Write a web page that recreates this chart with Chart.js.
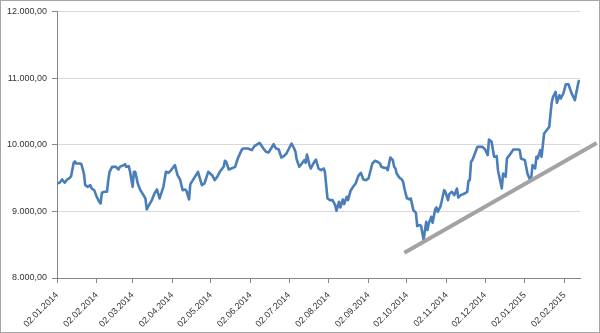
<!DOCTYPE html>
<html lang="de">
<head>
    <meta charset="UTF-8">
    <title>Kursverlauf</title>
    <script src="https://cdn.jsdelivr.net/npm/chart.js"></script>
    <style>
        html, body { margin: 0; padding: 0; background: #fff; }
        #wrap { width: 600px; height: 333px; box-sizing: border-box; border: 1px solid #a6a6a6; position: relative; }
    </style>
</head>
<body>
    <div id="wrap"><canvas id="kurs"></canvas></div>

    <script>
        // daily closes
        const dates = [
            '02.01.2014','04.01.2014','06.01.2014','08.01.2014','10.01.2014','12.01.2014','13.01.2014','15.01.2014','16.01.2014','17.01.2014',
            '20.01.2014','21.01.2014','23.01.2014','24.01.2014','26.01.2014','28.01.2014','29.01.2014','31.01.2014',
            '02.02.2014','04.02.2014','05.02.2014','06.02.2014','08.02.2014','10.02.2014','11.02.2014','12.02.2014','14.02.2014',
            '17.02.2014','19.02.2014','20.02.2014','23.02.2014','24.02.2014','25.02.2014','27.02.2014','28.02.2014',
            '02.03.2014','03.03.2014','04.03.2014','05.03.2014','06.03.2014','08.03.2014','10.03.2014','12.03.2014','13.03.2014','14.03.2014',
            '17.03.2014','19.03.2014','21.03.2014','23.03.2014','26.03.2014','28.03.2014','30.03.2014',
            '01.04.2014','02.04.2014','04.04.2014','06.04.2014','08.04.2014','10.04.2014','12.04.2014','13.04.2014','15.04.2014','16.04.2014',
            '18.04.2014','22.04.2014','25.04.2014','27.04.2014','30.04.2014',
            '03.05.2014','05.05.2014','07.05.2014','09.05.2014','12.05.2014','13.05.2014','14.05.2014','16.05.2014','18.05.2014','21.05.2014',
            '23.05.2014','26.05.2014','27.05.2014','31.05.2014',
            '03.06.2014','05.06.2014','09.06.2014','12.06.2014','14.06.2014','16.06.2014','18.06.2014','20.06.2014','21.06.2014','22.06.2014',
            '24.06.2014','26.06.2014','28.06.2014','30.06.2014',
            '02.07.2014','04.07.2014','06.07.2014','07.07.2014','08.07.2014','10.07.2014','12.07.2014','14.07.2014','15.07.2014','16.07.2014',
            '18.07.2014','19.07.2014','21.07.2014','23.07.2014','25.07.2014','27.07.2014','29.07.2014','30.07.2014',
            '01.08.2014','03.08.2014','05.08.2014','07.08.2014','08.08.2014','10.08.2014','11.08.2014','13.08.2014','14.08.2014','16.08.2014',
            '17.08.2014','19.08.2014','21.08.2014','23.08.2014','25.08.2014','27.08.2014','29.08.2014','31.08.2014',
            '02.09.2014','04.09.2014','05.09.2014','07.09.2014','09.09.2014','11.09.2014','12.09.2014','14.09.2014','16.09.2014','17.09.2014',
            '19.09.2014','21.09.2014','22.09.2014','23.09.2014','24.09.2014','26.09.2014','28.09.2014','29.09.2014','30.09.2014',
            '02.10.2014','03.10.2014','04.10.2014','05.10.2014','07.10.2014','09.10.2014','10.10.2014','12.10.2014','13.10.2014','15.10.2014',
            '17.10.2014','18.10.2014','19.10.2014','21.10.2014','22.10.2014','24.10.2014','25.10.2014','26.10.2014','28.10.2014','29.10.2014','31.10.2014',
            '01.11.2014','03.11.2014','04.11.2014','06.11.2014','08.11.2014','10.11.2014','11.11.2014','13.11.2014','16.11.2014','18.11.2014',
            '19.11.2014','20.11.2014','21.11.2014','22.11.2014','24.11.2014','26.11.2014','30.11.2014',
            '02.12.2014','04.12.2014','05.12.2014','07.12.2014','09.12.2014','11.12.2014','12.12.2014','15.12.2014','16.12.2014','18.12.2014',
            '19.12.2014','21.12.2014','24.12.2014','28.12.2014','29.12.2014','30.12.2014',
            '02.01.2015','04.01.2015','06.01.2015','07.01.2015','08.01.2015','10.01.2015','11.01.2015','12.01.2015','14.01.2015','15.01.2015',
            '17.01.2015','19.01.2015','21.01.2015','22.01.2015','23.01.2015','24.01.2015','26.01.2015','27.01.2015','29.01.2015','30.01.2015',
            '01.02.2015','03.02.2015','05.02.2015','07.02.2015','10.02.2015','11.02.2015','13.02.2015'
        ];
        const closes = [
            9420,9428,9478,9428,9478,9503,9528,9728,9748,9718,
            9718,9708,9568,9393,9368,9393,9343,9318,
            9218,9143,9118,9278,9293,9293,9468,9593,9668,
            9668,9628,9668,9693,9708,9668,9678,9593,
            9368,9593,9593,9508,9418,9318,9258,9193,9029,9068,
            9168,9268,9328,9193,9368,9593,9578,
            9618,9643,9693,9543,9478,9318,9328,9308,9178,9408,
            9468,9593,9393,9418,9593,
            9543,9468,9518,9593,9668,9758,9743,9628,9643,9668,
            9793,9918,9943,9943,
            9918,9978,10028,9943,9893,9883,9943,10008,9968,9943,
            9928,9808,9828,9868,
            9943,10018,9943,9893,9778,9668,9718,9768,9728,9853,
            9693,9643,9718,9778,9643,9618,9643,9593,
            9193,9168,9168,9093,9008,9143,9058,9178,9108,9218,
            9168,9308,9368,9418,9528,9578,9478,9468,
            9493,9643,9718,9758,9743,9718,9668,9653,9653,9618,
            9808,9768,9668,9643,9568,9508,9478,9443,9343,
            9193,9193,9178,9193,9018,8978,8779,8794,8779,8575,
            8843,8719,8819,8918,8828,9029,9058,8993,9068,9143,9318,
            9293,9168,9258,9293,9243,9343,9208,9243,9268,9293,
            9458,9468,9743,9768,9868,9968,9968,
            9928,9843,10078,10043,9818,9828,9618,9343,9568,9518,
            9793,9843,9928,9928,9918,9793,
            9768,9568,9468,9518,9693,9643,9818,9793,9918,9818,
            10168,10218,10268,10468,10643,10718,10793,10628,10743,10693,
            10768,10908,10908,10793,10668,10768,10955
        ];

        // hand drawn support line
        const trendDates = ['30.09.2014', '27.02.2015'];
        const trendValues = [8380, 10025];

        const tickLabels = [
            '02.01.2014','02.02.2014','02.03.2014','02.04.2014','02.05.2014','02.06.2014','02.07.2014',
            '02.08.2014','02.09.2014','02.10.2014','02.11.2014','02.12.2014','02.01.2015','02.02.2015'
        ];
        const yTicks = [8000, 9000, 10000, 11000, 12000];

        const startDate = '02.01.2014';
        const endDate = '14.02.2015';

        // days since the first date
        const toDay = s => {
            const [d, m, y] = s.split('.').map(Number);
            const [d0, m0, y0] = startDate.split('.').map(Number);
            return Math.round((Date.UTC(y, m - 1, d) - Date.UTC(y0, m0 - 1, d0)) / 86400000);
        };

        const fmt = v => {
            const s = String(Math.round(v)).replace(/\B(?=(\d{3})+(?!\d))/g, '.');
            return s + ',00';
        };

        const tickDays = tickLabels.map(toDay);

        Chart.defaults.font.family = '"Liberation Sans", Arial, sans-serif';
        Chart.defaults.font.size = 9;
        Chart.defaults.color = '#333333';

        new Chart(document.getElementById('kurs'), {
            type: 'line',
            data: {
                datasets: [{
                    data: trendDates.map((d, i) => ({ x: toDay(d), y: trendValues[i] })),
                    borderColor: '#a3a3a3',
                    borderWidth: 4,
                    pointRadius: 0,
                    borderCapStyle: 'butt',
                    clip: false
                }, {
                    data: dates.map((d, i) => ({ x: toDay(d), y: closes[i] })),
                    borderColor: '#4a7ebb',
                    borderWidth: 2.6,
                    pointRadius: 0,
                    tension: 0,
                    borderJoinStyle: 'round',
                    borderCapStyle: 'round'
                }]
            },
            options: {
                responsive: true,
                maintainAspectRatio: false,
                animation: false,
                layout: { padding: { top: 10, right: 19, left: 0, bottom: 0 } },
                plugins: { legend: { display: false }, tooltip: { enabled: false } },
                scales: {
                    x: {
                        type: 'linear',
                        min: 0,
                        max: toDay(endDate),
                        afterBuildTicks: s => { s.ticks = tickDays.map(v => ({ value: v })); },
                        afterFit: s => { s.height = 54; },
                        grid: { drawOnChartArea: false, tickLength: 5, tickColor: '#868686' },
                        border: { color: '#868686' },
                        ticks: {
                            autoSkip: false,
                            minRotation: 45,
                            maxRotation: 45,
                            padding: 7,
                            callback: v => tickLabels[tickDays.indexOf(v)]
                        }
                    },
                    y: {
                        min: yTicks[0],
                        max: yTicks[yTicks.length - 1],
                        afterBuildTicks: s => { s.ticks = yTicks.map(v => ({ value: v })); },
                        afterFit: s => { s.width = 56; },
                        grid: { color: '#d9d9d9', tickLength: 5, tickColor: '#868686' },
                        border: { color: '#868686' },
                        ticks: { padding: 5, callback: v => fmt(v) }
                    }
                }
            }
        });
    </script>
</body>
</html>
